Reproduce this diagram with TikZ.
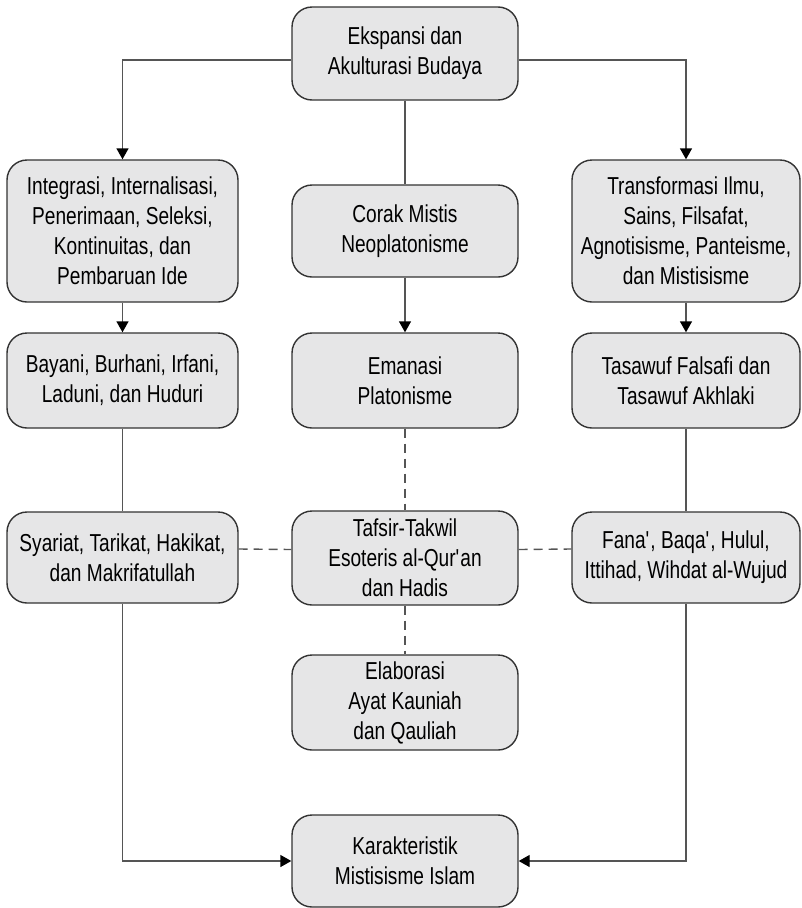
\documentclass[tikz,border=0pt]{standalone}
\usepackage{fontspec}
\setmainfont[FakeStretch=0.78]{Liberation Sans}
\usetikzlibrary{arrows.meta}
\definecolor{boxfill}{HTML}{E6E6E7}
\definecolor{boxline}{HTML}{333333}
\definecolor{conn}{HTML}{555555}
\tikzset{
  box/.style={draw=boxline, fill=boxfill, line width=1.4pt, rounded corners=20pt,
    align=center, font=\fontsize{24.5}{30}\selectfont, inner sep=0pt},
  link/.style={draw=conn, line width=1.4pt},
  arr/.style={link, -{Triangle[length=11pt,width=12pt,fill=black,color=black]}},
  dsh/.style={link, dash pattern=on 9pt off 6pt},
}
\begin{document}
\begin{tikzpicture}[x=1pt,y=-1pt]
\useasboundingbox (0,0) rectangle (802,908);
\node[box, minimum width=226pt, minimum height=93pt] (top) at (405,53.5) {Ekspansi dan\\Akulturasi Budaya};
\node[box, minimum width=231pt, minimum height=142pt] (L1) at (122.5,231) {Integrasi, Internalisasi,\\Penerimaan, Seleksi,\\Kontinuitas, dan\\Pembaruan Ide};
\node[box, minimum width=226pt, minimum height=92pt] (M1) at (405,231) {Corak Mistis\\Neoplatonisme};
\node[box, minimum width=228pt, minimum height=142pt] (R1) at (686,231) {Transformasi Ilmu,\\Sains, Filsafat,\\Agnotisisme, Panteisme,\\dan Mistisisme};
\node[box, minimum width=231pt, minimum height=95pt] (L2) at (122.5,380.5) {Bayani, Burhani, Irfani,\\Laduni, dan Huduri};
\node[box, minimum width=226pt, minimum height=95pt] (M2) at (405,380.5) {Emanasi\\Platonisme};
\node[box, minimum width=228pt, minimum height=95pt] (R2) at (686,380.5) {Tasawuf Falsafi dan\\Tasawuf Akhlaki};
\node[box, minimum width=231pt, minimum height=91pt] (L3) at (122.5,557.5) {Syariat, Tarikat, Hakikat,\\dan Makrifatullah};
\node[box, minimum width=226pt, minimum height=94pt] (M3) at (405,558) {Tafsir-Takwil\\Esoteris al-Qur\textquotesingle an\\dan Hadis};
\node[box, minimum width=228pt, minimum height=91pt] (R3) at (686,557.5) {Fana\textquotesingle, Baqa\textquotesingle, Hulul,\\Ittihad, Wihdat al-Wujud};
\node[box, minimum width=226pt, minimum height=95pt] (M4) at (405,702.5) {Elaborasi\\Ayat Kauniah\\dan Qauliah};
\node[box, minimum width=226pt, minimum height=92pt] (B) at (405,861) {Karakteristik\\Mistisisme Islam};

\draw[arr] ([yshift=-6.5pt]top.west) -| (L1.north);
\draw[arr] ([yshift=-6.5pt]top.east) -| (R1.north);
\draw[link] (top.south) -- (M1.north);
\draw[arr] (M1.south) -- (M2.north);
\draw[arr] (L1.south) -- (L2.north);
\draw[arr] (R1.south) -- (R2.north);
\draw[link] (L2.south) -- (L3.north);
\draw[link] (R2.south) -- (R3.north);
\draw[dsh] (M2.south) -- (M3.north);
\draw[dsh] (M3.south) -- (M4.north);
\draw[dsh] ([yshift=8.5pt]L3.east) -- ([yshift=8.5pt]M3.west);
\draw[dsh] ([yshift=8.5pt]M3.east) -- ([yshift=8.5pt]R3.west);
\draw[arr] (L3.south) |- (B.west);
\draw[arr] (R3.south) |- (B.east);
\end{tikzpicture}
\end{document}
